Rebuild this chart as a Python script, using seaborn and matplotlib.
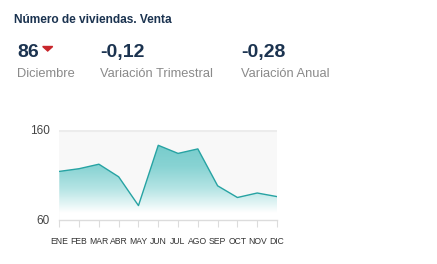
import numpy as np
import pandas as pd
import matplotlib
matplotlib.use("Agg")
import matplotlib.pyplot as plt
import seaborn as sns
from matplotlib.colors import LinearSegmentedColormap

months = ["ENE", "FEB", "MAR", "ABR", "MAY", "JUN", "JUL", "AGO", "SEP", "OCT", "NOV", "DIC"]
values = [114, 117, 122, 108, 76, 143, 134, 139, 98, 85, 90, 86]
y_ticks = [60, 160]
title = "Número de viviendas. Venta"
kpi_values = ["86", "-0,12", "-0,28"]
kpi_labels = ["Diciembre", "Variación Trimestral", "Variación Anual"]

sns.set_theme(style="white")
plt.rcParams["font.family"] = ["Liberation Sans", "DejaVu Sans"]

W, H = 437, 264
fig = plt.figure(figsize=(W / 100, H / 100), dpi=100)
fig.patch.set_facecolor("white")

navy = "#1b3350"
grey = "#8a8a8a"

def fx(px):
    return px / W

def fy(py):
    return 1 - py / H

fig.text(fx(13.5), fy(22.7), title, fontsize=8.6, fontweight="bold", color=navy, va="baseline")
kx = [17.3, 100, 241]
for x, v, l in zip(kx, kpi_values, kpi_labels):
    fig.text(fx(x), fy(57.3), v, fontsize=14, fontweight="bold", color=navy, va="baseline")
    fig.text(fx(x), fy(76.7), l, fontsize=9.3, color=grey, va="baseline")
# red down triangle next to first value
fig.patches.append(plt.Polygon([[fx(42.7), fy(46.5)], [fx(52.7), fy(46.5)], [fx(47.7), fy(51)]],
                               closed=True, transform=fig.transFigure, color="#c8262c", figure=fig))

ax = fig.add_axes([fx(59.3), fy(220), fx(277) - fx(59.3), (220 - 130) / H])
df = pd.DataFrame({"mes": np.arange(len(months)), "valor": values})

ax.set_facecolor("#f8f8f8")
ax.set_xlim(0, len(months) - 1)
ax.set_ylim(y_ticks[0], y_ticks[1])

# gradient fill
x = df["mes"].values
y = df["valor"].values
grad = np.linspace(0, 1, 256).reshape(-1, 1)
im = ax.imshow(grad, extent=[0, len(months) - 1, y_ticks[0], y_ticks[1]], origin="lower",
               aspect="auto", cmap=LinearSegmentedColormap.from_list(
                   "g2", [(0.0, "#ffffff"), (0.08, "#ffffff"), (0.35, "#b4e4e4"), (0.6, "#88d3d3"), (1.0, "#6cc7c7")]),
               zorder=1)
poly = ax.fill_between(x, y, y_ticks[0], color="none", lw=0)
clip = poly.get_paths()[0]
im.set_clip_path(clip, transform=ax.transData)

sns.lineplot(data=df, x="mes", y="valor", ax=ax, color="#27a3a3", lw=1.0, zorder=3)

ax.axhline(y_ticks[1], color="#ececec", lw=2.2, zorder=2)
for s in ["top", "right", "left"]:
    ax.spines[s].set_visible(False)
ax.spines["bottom"].set_color("#dcdcdc")
ax.spines["bottom"].set_linewidth(1.0)
ax.set_xticks(x)
ax.set_xticklabels(months, fontsize=6.2, color="#333333")
ax.tick_params(axis="x", bottom=True, length=5, width=0.8, color="#dcdcdc", pad=7)
ax.set_yticks(y_ticks)
ax.set_yticklabels([str(t) for t in y_ticks], fontsize=8.5, color="#444444")
ax.tick_params(axis="y", left=False, length=0, pad=7)
ax.set_xlabel("")
ax.set_ylabel("")
ax.grid(False)

fig.savefig("out.png", dpi=100, facecolor="white")
